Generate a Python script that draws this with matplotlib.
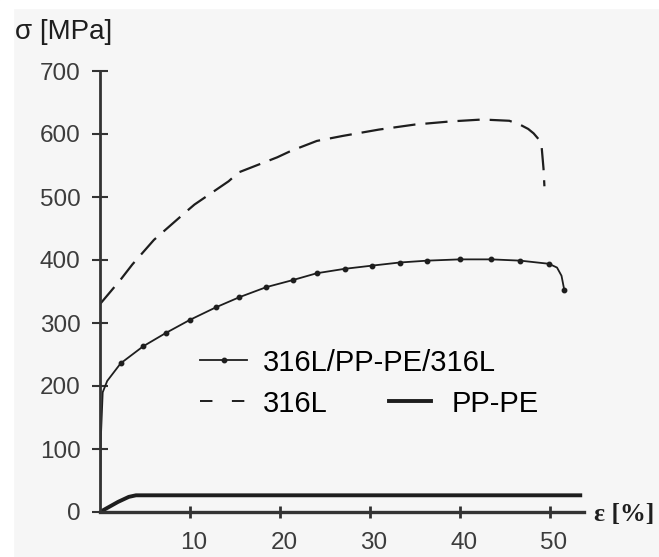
import matplotlib.pyplot as plt
from matplotlib.lines import Line2D
from matplotlib.patches import Rectangle
from matplotlib.transforms import ScaledTranslation

# strain [%] and stress [MPa]
eps_sandwich = [0, 0.1, 0.3, 0.8, 2.3, 4.8, 7.3, 10.0, 12.9, 15.5, 18.5, 21.4, 24.1,
                27.2, 30.2, 33.3, 36.4, 40.0, 43.5, 46.7, 49.9, 50.8, 51.3, 51.6]
sig_sandwich = [0, 120, 190, 208, 236, 263, 284, 305, 325, 341, 357, 368, 379,
                386, 391, 396, 399, 401, 401, 399, 394, 388, 375, 353]
marks_sandwich = list(range(4, 21)) + [23]

eps_316 = [0, 2.3, 3.6, 6.0, 9.6, 10.5, 14.3, 15.4, 19.7, 21.2, 24.1, 27, 31, 35,
           39, 42.5, 45.5, 46.8, 47.6, 48.2, 48.8, 49.1, 49.3, 49.4]
sig_316 = [330, 369, 393, 432, 477, 488, 525, 539, 563, 573, 589, 597, 607, 615,
           620, 623, 621, 614, 608, 601, 591, 578, 545, 517]

eps_pp = [0, 1.0, 2.0, 3.2, 4.0, 53.6]
sig_pp = [0, 8, 16, 24, 26.5, 26.5]

x_ticks = [10, 20, 30, 40, 50]
y_ticks = [0, 100, 200, 300, 400, 500, 600, 700]

bg = "#f6f6f6"
ink = "#1e1e1e"
axis_col = "#333333"
sans = ["Liberation Sans", "DejaVu Sans"]

fig = plt.figure(figsize=(6.59, 5.57), dpi=100, facecolor=bg)
# white strips at top and left edge of the scan
fig.add_artist(Rectangle((0, 1 - 8 / 557), 1, 8 / 557, transform=fig.transFigure,
                         color="white", zorder=0))
fig.add_artist(Rectangle((0, 0), 13 / 659, 1, transform=fig.transFigure,
                         color="white", zorder=0))

ax = fig.add_axes([100 / 659, 45 / 557, 484 / 659, 441 / 557])
ax.set_facecolor(bg)

ax.plot(eps_316, sig_316, color=ink, lw=1.6, dashes=(10, 4.5))
ax.plot(eps_sandwich, sig_sandwich, color=ink, lw=1.3, marker="o", ms=3.2,
        markevery=marks_sandwich)
ax.plot(eps_pp, sig_pp, color=ink, lw=2.8, solid_capstyle="butt")

ax.set_xlim(0, 53.8)
ax.set_ylim(0, 700)
ax.set_xticks(x_ticks)
ax.set_yticks(y_ticks)

for s in ["top", "right"]:
    ax.spines[s].set_visible(False)
ax.spines["left"].set_linewidth(2.0)
ax.spines["left"].set_color(axis_col)
ax.spines["bottom"].set_linewidth(2.4)
ax.spines["bottom"].set_color(axis_col)

ax.tick_params(axis="y", direction="inout", length=12, width=1.5, color=axis_col,
               labelsize=17.5, labelcolor="#3c3c3c", pad=8)
ax.tick_params(axis="x", direction="inout", length=9, width=2.0, color=axis_col,
               labelsize=17.5, labelcolor="#3c3c3c", pad=10)

for lab in ax.get_xticklabels() + ax.get_yticklabels():
    lab.set_family(sans)
for lab in ax.get_xticklabels():
    lab.set_transform(lab.get_transform() + ScaledTranslation(0.04, 0, fig.dpi_scale_trans))

fig.text(15 / 659, 1 - 32 / 557, "σ [MPa]", fontsize=20, va="center", ha="left",
         color=ink, family=sans)
fig.text(594 / 659, 1 - 515 / 557, "ε [%]", fontsize=18.5, va="center", ha="left",
         color=ink, family=["Liberation Serif", "DejaVu Serif"], fontweight="bold")

h_sandwich = Line2D([], [], color=ink, lw=1.3, marker="o", ms=3.2)
h_316 = Line2D([], [], color=ink, lw=1.4, dashes=(6.4, 10))
h_pp = Line2D([], [], color=ink, lw=2.8)

leg_kw = dict(loc="center left", bbox_transform=ax.transData, frameon=False,
              borderpad=0, borderaxespad=0, numpoints=1,
              prop={"family": sans, "size": 21})
leg1 = ax.legend([h_sandwich], ["316L/PP-PE/316L"], bbox_to_anchor=(11.1, 237),
                 handlelength=1.63, handletextpad=0.54, **leg_kw)
ax.add_artist(leg1)
leg2 = ax.legend([h_316], ["316L"], bbox_to_anchor=(11.1, 172),
                 handlelength=1.63, handletextpad=0.54, **leg_kw)
ax.add_artist(leg2)
ax.legend([h_pp], ["PP-PE"], bbox_to_anchor=(32.1, 172),
          handlelength=1.44, handletextpad=0.72, **leg_kw)

fig.savefig("out.png", dpi=100, facecolor=bg)
